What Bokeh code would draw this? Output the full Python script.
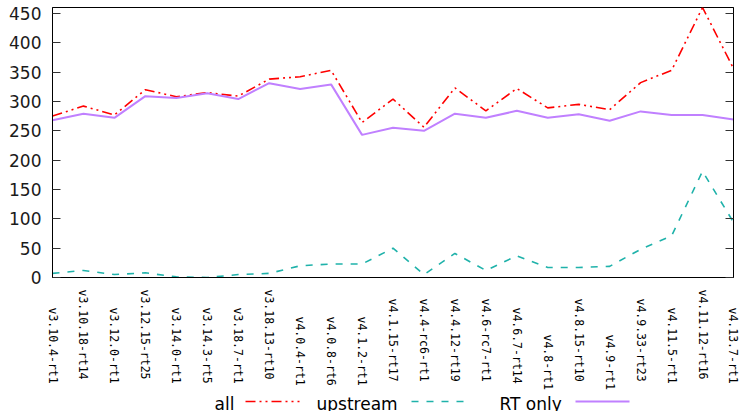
import math
from bokeh.plotting import figure
from bokeh.layouts import column
from bokeh.models import (Range1d, FixedTicker, LinearAxis, Label, Arrow, ColumnDataSource)
from bokeh.embed import file_html
from bokeh.resources import INLINE

categories = ["v3.10.4-rt1", "v3.10.18-rt14", "v3.12.0-rt1", "v3.12.15-rt25", "v3.14.0-rt1",
              "v3.14.3-rt5", "v3.18.7-rt1", "v3.18.13-rt10", "v4.0.4-rt1", "v4.0.8-rt6",
              "v4.1.2-rt1", "v4.1.15-rt17", "v4.4-rc6-rt1", "v4.4.12-rt19", "v4.6-rc7-rt1",
              "v4.6.7-rt14", "v4.8-rt1", "v4.8.15-rt10", "v4.9-rt1", "v4.9.33-rt23",
              "v4.11.5-rt1", "v4.11.12-rt16", "v4.13.7-rt1"]
all_vals = [275, 292, 277, 320, 308, 315, 309, 338, 342, 353, 264, 304, 256, 323, 284, 322,
            289, 295, 286, 332, 353, 460, 356]
upstream = [7, 12, 5, 8, 1, 0, 5, 7, 20, 23, 23, 50, 5, 41, 12, 37, 17, 17, 19, 48, 71, 181, 94]
rt_only = [268, 279, 272, 309, 306, 314, 304, 331, 321, 329, 243, 255, 250, 279, 272, 284,
           272, 278, 267, 283, 277, 277, 269]
y_ticks = [0, 50, 100, 150, 200, 250, 300, 350, 400, 450]
series_names = ["all", "upstream", "RT only"]

# layout (pixels)
W, H_TOP, H_BOT = 739, 392, 19
FRAME_L, FRAME_R, FRAME_T, FRAME_B = 52, 733, 7, 277

n = len(categories)
idx = list(range(n))
src = ColumnDataSource(dict(x=idx, all=all_vals, up=upstream, rt=rt_only))

p = figure(width=W, height=H_TOP, output_backend="svg", toolbar_location=None,
           x_range=Range1d(0, n - 1), y_range=Range1d(0, 460),
           min_border_left=FRAME_L, min_border_right=W - FRAME_R, min_border_top=FRAME_T,
           min_border_bottom=H_TOP - FRAME_B)
p.xgrid.visible = False
p.ygrid.visible = False
p.outline_line_color = "black"
p.outline_line_width = 1
p.background_fill_color = "white"
p.border_fill_color = "white"

maxlen = max(len(c) for c in categories)
xa = p.xaxis[0]
xa.ticker = FixedTicker(ticks=idx)
xa.major_label_overrides = {i: c.rjust(maxlen, "\u2800") for i, c in enumerate(categories)}
xa.major_label_orientation = -math.pi / 2
xa.major_label_text_font = "DejaVu Sans Mono"
xa.major_label_text_font_size = "11.5px"
xa.major_label_text_color = "black"
xa.major_label_standoff = 12
xa.major_tick_in = 0
xa.major_tick_out = 0
xa.minor_tick_in = 0
xa.minor_tick_out = 0
xa.axis_line_color = "black"

ya = p.yaxis[0]
ya.ticker = FixedTicker(ticks=y_ticks)
ya.major_label_text_font = "DejaVu Sans"
ya.major_label_text_font_size = "17px"
ya.major_label_text_color = "#1a1a1a"
ya.major_label_standoff = 11
ya.major_tick_in = 8
ya.major_tick_out = 0
ya.minor_tick_in = 0
ya.minor_tick_out = 0
ya.major_tick_line_color = "#333333"
ya.axis_line_color = "black"

ra = LinearAxis(ticker=FixedTicker(ticks=y_ticks),
                major_label_overrides={t: "" for t in y_ticks},
                major_label_standoff=0, major_tick_in=8, major_tick_out=0,
                minor_tick_in=0, minor_tick_out=0, axis_line_color="black",
                major_tick_line_color="#333333")
p.add_layout(ra, "right")

styles = [dict(line_color="#ff0000", line_width=1.6, line_dash="10 4 2 4 2 4"),
          dict(line_color="#1fb2aa", line_width=1.6, line_dash="7 8"),
          dict(line_color="#c080ff", line_width=2)]
for col, st in zip(["all", "up", "rt"], styles):
    p.line("x", col, source=src, **st)

# legend strip (text before sample, gnuplot style)
pb = figure(width=W, height=H_BOT, output_backend="svg", toolbar_location=None,
            x_range=Range1d(0, 1), y_range=Range1d(0, 1),
            min_border_left=FRAME_L, min_border_right=W - FRAME_R, min_border_top=0,
            min_border_bottom=0)
pb.axis.visible = False
pb.grid.visible = False
pb.outline_line_color = None
pb.background_fill_color = "white"
pb.border_fill_color = "white"

text_x = [214, 316, 499]
sample_x = [245, 411, 575]
for name, tx, sx, st in zip(series_names, text_x, sample_x, styles):
    pb.add_layout(Label(x=tx - FRAME_L, y=8, x_units="screen", y_units="screen", text=name,
                        text_font="DejaVu Sans", text_font_size="17px",
                        text_color="black", text_baseline="middle"))
    pb.add_layout(Arrow(end=None, x_start=sx - FRAME_L, y_start=10, x_end=sx - FRAME_L + 54,
                        y_end=10, start_units="screen", end_units="screen", **st))

layout = column(p, pb, spacing=0)
open("out.html", "w").write(file_html(layout, INLINE))
